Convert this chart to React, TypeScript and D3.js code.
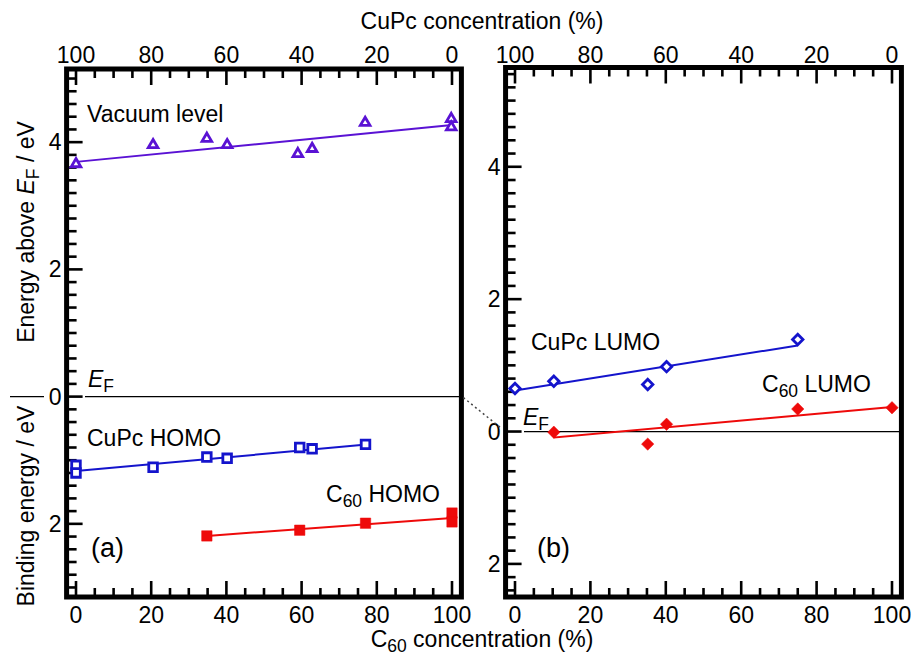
import React, { useRef, useEffect } from "react";
import * as d3 from "d3";

// C60 concentration (%) and energies (eV, positive = above EF)
const vacX = [0, 20.5, 34.8, 40.2, 59, 62.8, 76.9, 99.8, 99.8];
const vacE = [3.67, 3.97, 4.07, 3.97, 3.83, 3.91, 4.32, 4.38, 4.25];
const vacFitX = [0, 100];
const vacFitE = [3.69, 4.27];

// binding energies (positive = below EF)
const cupcHomoX = [0, 0, 20.5, 34.8, 40.2, 59.5, 62.8, 77];
const cupcHomoB = [1.08, 1.2, 1.11, 0.95, 0.97, 0.8, 0.82, 0.75];
const cupcHomoFitX = [0, 78];
const cupcHomoFitB = [1.17, 0.75];

const c60HomoX = [34.8, 59.5, 77, 100, 100];
const c60HomoB = [2.19, 2.1, 1.99, 1.83, 1.97];
const c60HomoFitX = [34.8, 100];
const c60HomoFitB = [2.19, 1.91];

const cupcLumoX = [0, 10.3, 35.2, 40.2, 75];
const cupcLumoE = [0.65, 0.76, 0.71, 0.98, 1.39];
const cupcLumoFitX = [0, 75];
const cupcLumoFitE = [0.62, 1.3];

const c60LumoX = [10.3, 35.2, 40.2, 75, 100];
const c60LumoE = [-0.01, -0.19, 0.11, 0.34, 0.36];
const c60LumoFitX = [10.3, 10.5, 100];
const c60LumoFitE = [0.0, -0.09, 0.37];

const xTicks = [0, 20, 40, 60, 80, 100];
const yTickVals = [4, 2, 0, -2];
const yTickLabels = ["4", "2", "0", "2"];

const FONT = "Liberation Sans, Arial, sans-serif";
const FS = 23;
const PURPLE = "#5a12d4";
const BLUE = "#1414cc";
const RED = "#ee0a0a";

const App = () => {
  const svgRef = useRef<SVGSVGElement>(null);

  useEffect(() => {
    const svg = d3.select(svgRef.current);
    svg.selectAll("*").remove();

    const xLeft = d3.scaleLinear().domain([0, 100]).range([76, 452]);
    const xRight = d3.scaleLinear().domain([0, 100]).range([515, 892]);
    const yLeft = d3.scaleLinear().domain([-3.15, 5.15]).range([597, 69]);
    const yRight = d3.scaleLinear().domain([-2.5, 5.5]).range([597, 67.5]);

    const zip = (xs: number[], ys: number[], sign = 1) =>
      xs.map((x, i) => [x, ys[i] * sign] as [number, number]);

    const drawPanel = (
      x: d3.ScaleLinear<number, number>,
      y: d3.ScaleLinear<number, number>
    ) => {
      const g = svg.append("g");
      const [x0, x1] = [x(-2.5), x(102.5)];
      const [yb, yt] = y.range();

      // minor/major ticks on top and bottom
      for (let v = 0; v <= 100; v += 5) {
        const major = v % 20 === 0;
        const len = major ? 16 : 9;
        g.append("line")
          .attr("x1", x(v)).attr("x2", x(v))
          .attr("y1", yt).attr("y2", yt + len)
          .attr("stroke", "#000").attr("stroke-width", 2.6);
        g.append("line")
          .attr("x1", x(v)).attr("x2", x(v))
          .attr("y1", yb).attr("y2", yb - len)
          .attr("stroke", "#000").attr("stroke-width", 2.6);
      }

      // y ticks every 0.2 eV
      const [d0, d1] = y.domain();
      for (let k = Math.ceil(d0 / 0.2); k <= Math.floor(d1 / 0.2); k++) {
        const v = k * 0.2;
        const major = k % 10 === 0;
        g.append("line")
          .attr("x1", x0).attr("x2", x0 + (major ? 16 : 10))
          .attr("y1", y(v)).attr("y2", y(v))
          .attr("stroke", "#000").attr("stroke-width", 2.6);
      }

      // tick labels
      g.selectAll(".xb")
        .data(xTicks)
        .enter()
        .append("text")
        .attr("x", (d) => x(d))
        .attr("y", 623)
        .attr("text-anchor", "middle")
        .attr("font-size", FS)
        .attr("font-family", FONT)
        .text((d) => d);
      g.selectAll(".xt")
        .data(xTicks)
        .enter()
        .append("text")
        .attr("x", (d) => x(d))
        .attr("y", 63)
        .attr("text-anchor", "middle")
        .attr("font-size", FS)
        .attr("font-family", FONT)
        .text((d) => 100 - d);
      g.selectAll(".yl")
        .data(yTickVals)
        .enter()
        .append("text")
        .attr("x", x0 - 5)
        .attr("y", (d) => y(d) + 8)
        .attr("text-anchor", "end")
        .attr("font-size", FS)
        .attr("font-family", FONT)
        .text((d, i) => yTickLabels[i]);

      // EF line
      g.append("line")
        .attr("x1", x(0) + 9).attr("x2", x1)
        .attr("y1", y(0)).attr("y2", y(0))
        .attr("stroke", "#000").attr("stroke-width", 1.2);

      // frame
      g.append("rect")
        .attr("x", x0).attr("y", yt)
        .attr("width", x1 - x0).attr("height", yb - yt)
        .attr("fill", "none").attr("stroke", "#000").attr("stroke-width", 5);
      return g;
    };

    const gl = drawPanel(xLeft, yLeft);
    const gr = drawPanel(xRight, yRight);

    const line = (x: d3.ScaleLinear<number, number>, y: d3.ScaleLinear<number, number>) =>
      d3.line<[number, number]>().x((d) => x(d[0])).y((d) => y(d[1]));

    const fit = (
      g: d3.Selection<SVGGElement, unknown, null, undefined>,
      pts: [number, number][],
      x: d3.ScaleLinear<number, number>,
      y: d3.ScaleLinear<number, number>,
      color: string
    ) =>
      g.append("path")
        .attr("d", line(x, y)(pts))
        .attr("fill", "none")
        .attr("stroke", color)
        .attr("stroke-width", 2);

    const markers = (
      g: d3.Selection<SVGGElement, unknown, null, undefined>,
      pts: [number, number][],
      x: d3.ScaleLinear<number, number>,
      y: d3.ScaleLinear<number, number>,
      shape: string,
      color: string,
      filled: boolean
    ) =>
      g.selectAll(null)
        .data(pts)
        .enter()
        .append("path")
        .attr("transform", (d) => `translate(${x(d[0])},${y(d[1])})`)
        .attr("d", shape)
        .attr("fill", filled ? color : "#fff")
        .attr("stroke", color)
        .attr("stroke-width", filled ? 0.5 : 2.8)
        .attr("stroke-linejoin", "miter");

    const tri = "M0,-4.6L4.8,3.6L-4.8,3.6Z";
    const sqOpen = "M-4.3,-4.3H4.3V4.3H-4.3Z";
    const sqFill = "M-5.2,-5.2H5.2V5.2H-5.2Z";
    const dmOpen = "M0,-5.2L5.2,0L0,5.2L-5.2,0Z";
    const dmFill = "M0,-6.2L6.2,0L0,6.2L-6.2,0Z";

    // panel (a)
    fit(gl, zip(vacFitX, vacFitE), xLeft, yLeft, PURPLE);
    markers(gl, zip(vacX, vacE), xLeft, yLeft, tri, PURPLE, false);
    fit(gl, zip(cupcHomoFitX, cupcHomoFitB, -1), xLeft, yLeft, BLUE);
    markers(gl, zip(cupcHomoX, cupcHomoB, -1), xLeft, yLeft, sqOpen, BLUE, false);
    fit(gl, zip(c60HomoFitX, c60HomoFitB, -1), xLeft, yLeft, RED);
    markers(gl, zip(c60HomoX, c60HomoB, -1), xLeft, yLeft, sqFill, RED, true);

    // panel (b)
    fit(gr, zip(cupcLumoFitX, cupcLumoFitE), xRight, yRight, BLUE);
    markers(gr, zip(cupcLumoX, cupcLumoE), xRight, yRight, dmOpen, BLUE, false);
    fit(gr, zip(c60LumoFitX, c60LumoFitE), xRight, yRight, RED);
    markers(gr, zip(c60LumoX, c60LumoE), xRight, yRight, dmFill, RED, true);

    // dotted connector between the two EF levels
    svg.append("line")
      .attr("x1", xLeft(102.5) + 2).attr("y1", yLeft(0) + 1)
      .attr("x2", xRight(-2.5) - 4).attr("y2", yRight(0) - 3)
      .attr("stroke", "#444").attr("stroke-width", 1.5)
      .attr("stroke-dasharray", "2,3");

    // labels
    const label = (
      x: number,
      y: number,
      parts: { t: string; sub?: boolean; it?: boolean }[],
      size = FS
    ) => {
      const t = svg.append("text")
        .attr("x", x).attr("y", y)
        .attr("font-size", size)
        .attr("font-family", FONT);
      parts.forEach((p, i) => {
        const prevSub = i > 0 && parts[i - 1].sub;
        const ts = t.append("tspan").text(p.t);
        if (p.sub) ts.attr("font-size", size * 0.76).attr("dy", 5);
        else if (prevSub) ts.attr("dy", -5);
        if (p.it) ts.attr("font-style", "italic");
      });
      return t;
    };

    label(87, 122, [{ t: "Vacuum level" }]);
    label(87, 446, [{ t: "CuPc HOMO" }]);
    label(326, 502, [{ t: "C" }, { t: "60", sub: true }, { t: " HOMO" }]);
    label(88, 387, [{ t: "E", it: true }, { t: "F", sub: true }]);
    label(91, 557, [{ t: "(a)" }], 27);
    label(531, 350, [{ t: "CuPc LUMO" }]);
    label(762, 392, [{ t: "C" }, { t: "60", sub: true }, { t: " LUMO" }]);
    label(523, 425, [{ t: "E", it: true }, { t: "F", sub: true }]);
    label(537, 557, [{ t: "(b)" }], 27);

    // axis titles
    label(482, 29, [{ t: "CuPc concentration (%)" }]).attr("text-anchor", "middle");
    label(482, 647, [{ t: "C" }, { t: "60", sub: true }, { t: " concentration (%)" }]).attr(
      "text-anchor",
      "middle"
    );
    label(0, 0, [{ t: "Energy above " }, { t: "E", it: true }, { t: "F", sub: true }, { t: " / eV" }])
      .attr("text-anchor", "middle")
      .attr("transform", "translate(34,232) rotate(-90)");
    label(0, 0, [{ t: "Binding energy / eV" }])
      .attr("text-anchor", "middle")
      .attr("transform", "translate(34,506) rotate(-90)");
    svg.append("line")
      .attr("x1", 10).attr("x2", 44)
      .attr("y1", yLeft(0)).attr("y2", yLeft(0))
      .attr("stroke", "#000").attr("stroke-width", 1.2);
  }, []);

  return (
    <svg
      ref={svgRef}
      width={911}
      height={657}
      style={{ position: "absolute", left: 0, top: 0, background: "#fff" }}
    />
  );
};

export default App;
